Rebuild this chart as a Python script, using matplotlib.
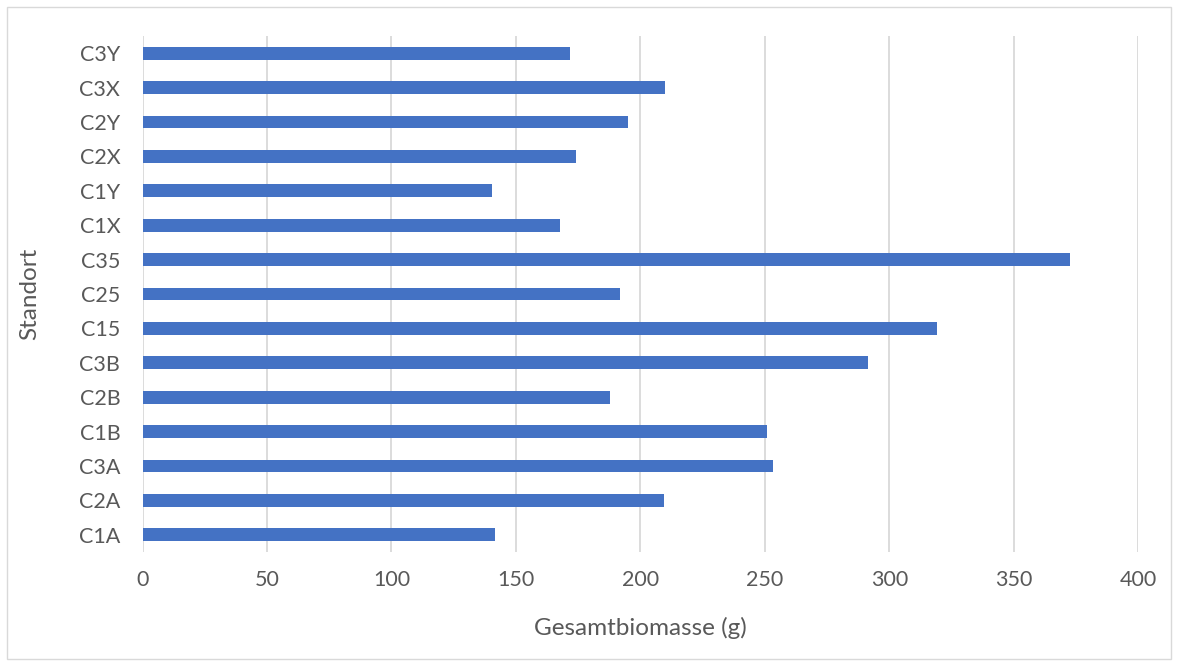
import matplotlib
matplotlib.use("Agg")
import matplotlib.pyplot as plt
from matplotlib.patches import Rectangle

standorte = ["C1A", "C2A", "C3A", "C1B", "C2B", "C3B", "C15", "C25", "C35",
             "C1X", "C1Y", "C2X", "C2Y", "C3X", "C3Y"]
biomasse = [141.5, 209.6, 253.2, 251.0, 187.9, 291.6, 319.1, 191.8, 372.6,
            167.7, 140.4, 174.0, 194.9, 210.0, 171.8]
x_ticks = [0, 50, 100, 150, 200, 250, 300, 350, 400]

plt.rcParams["font.family"] = ["Lato", "DejaVu Sans"]
text_color = "#595959"
grid_color = "#D9D9D9"
bar_color = "#4472C4"

W, H = 1179, 666
fig = plt.figure(figsize=(W / 100, H / 100), dpi=100)
fig.patch.set_facecolor("white")

# thin frame around the chart area
fig.add_artist(Rectangle((7 / W, 7 / H), (1171 - 7) / W, (659 - 7) / H,
                         transform=fig.transFigure, fill=False,
                         edgecolor=grid_color, linewidth=1.0))

left, right = 142.5 / W, 1138.3 / W
bottom, top = 1 - 552 / H, 1 - 36 / H
ax = fig.add_axes([left, bottom, right - left, top - bottom])

y = list(range(len(standorte)))
ax.barh(y, biomasse, height=0.37, color=bar_color, zorder=3)

ax.set_xlim(0, 400)
ax.set_ylim(-0.5, len(standorte) - 0.5)
ax.set_xticks(x_ticks)
ax.set_xticklabels([str(t) for t in x_ticks])
ax.set_yticks(y)
ax.set_yticklabels(standorte)

ax.grid(axis="x", color=grid_color, linewidth=1.3, zorder=0)
ax.grid(axis="y", visible=False)
for s in ax.spines.values():
    s.set_visible(False)

ax.tick_params(axis="both", length=0, labelsize=15.5, colors=text_color)
ax.tick_params(axis="x", pad=13)
ax.tick_params(axis="y", pad=16)

ax.set_xlabel("Gesamtbiomasse (g)", fontsize=17.5, color=text_color, labelpad=19)
ax.set_ylabel("Standort", fontsize=17.5, color=text_color, labelpad=28)

fig.savefig("out.png", dpi=100, facecolor="white")
